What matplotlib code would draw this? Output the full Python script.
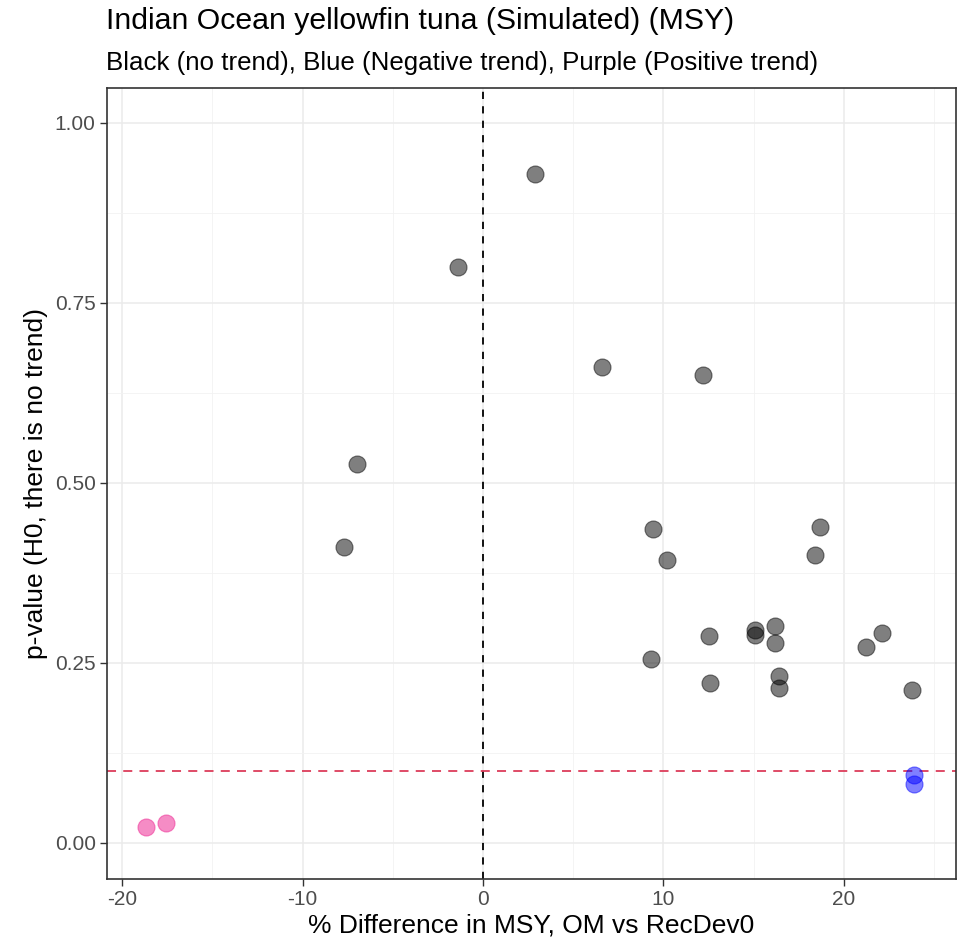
import matplotlib.pyplot as plt
from matplotlib.ticker import MultipleLocator

plt.rcParams['font.family'] = ['Liberation Sans', 'DejaVu Sans']
plt.rcParams['axes.unicode_minus'] = False

# % difference in MSY and trend-test p-values, per group
x_none = [2.9, -1.4, 6.6, 12.2, -7.0, -7.7, 9.4, 10.2, 18.7, 18.4, 9.3, 12.5,
          12.6, 15.1, 15.1, 16.2, 16.2, 16.4, 16.4, 21.2, 22.1, 23.8]
p_none = [0.929, 0.799, 0.660, 0.649, 0.526, 0.411, 0.436, 0.393, 0.438, 0.400,
          0.255, 0.287, 0.221, 0.295, 0.288, 0.301, 0.277, 0.232, 0.214, 0.271,
          0.291, 0.212]
x_neg = [23.9, 23.9]
p_neg = [0.094, 0.082]
x_pos = [-18.7, -17.6]
p_pos = [0.022, 0.027]

fig = plt.figure(figsize=(9.59, 9.41), dpi=100)
ax = fig.add_axes([0.1113, 0.0656, 0.8853, 0.8409])

ax.scatter(x_none, p_none, s=150, color='black', alpha=0.5, linewidths=0.8, zorder=3)
ax.scatter(x_neg, p_neg, s=150, color='blue', alpha=0.5, linewidths=0.8, zorder=3)
ax.scatter(x_pos, p_pos, s=150, color='#EE2E96', alpha=0.55, linewidths=0.8, zorder=3)

ax.axvline(0, color='black', ls=(0, (4, 4)), lw=1.3, zorder=2)
ax.axhline(0.1, color='#DC3D5A', ls=(0, (5, 4)), lw=1.3, zorder=2)

ax.set_xlim(-20.86, 26.2)
ax.set_ylim(-0.051, 1.048)
ax.xaxis.set_major_locator(MultipleLocator(10))
ax.xaxis.set_minor_locator(MultipleLocator(5))
ax.yaxis.set_major_locator(MultipleLocator(0.25))
ax.yaxis.set_minor_locator(MultipleLocator(0.125))
ax.yaxis.set_major_formatter(lambda v, pos: f'{v:.2f}')

ax.grid(which='major', color='#EBEBEB', lw=1.1, zorder=0)
ax.grid(which='minor', color='#F2F2F2', lw=0.6, zorder=0)
ax.set_axisbelow(True)
ax.tick_params(which='minor', length=0)
ax.tick_params(which='major', length=5, width=1.0, color='#333333',
               labelsize=15, labelcolor='#4D4D4D', pad=3)
for sp in ax.spines.values():
    sp.set_color('#333333')
    sp.set_linewidth(1.2)

ax.set_xlabel('% Difference in MSY, OM vs RecDev0', fontsize=19, labelpad=3)
ax.set_ylabel('p-value (H0, there is no trend)', fontsize=19, labelpad=5)

fig.text(0.1105, 0.9777, 'Indian Ocean yellowfin tuna (Simulated) (MSY)',
         fontsize=21.8, va='center', ha='left')
fig.text(0.1105, 0.933, 'Black (no trend), Blue (Negative trend), Purple (Positive trend)',
         fontsize=18.6, va='center', ha='left')

fig.savefig('out.png', dpi=100)
